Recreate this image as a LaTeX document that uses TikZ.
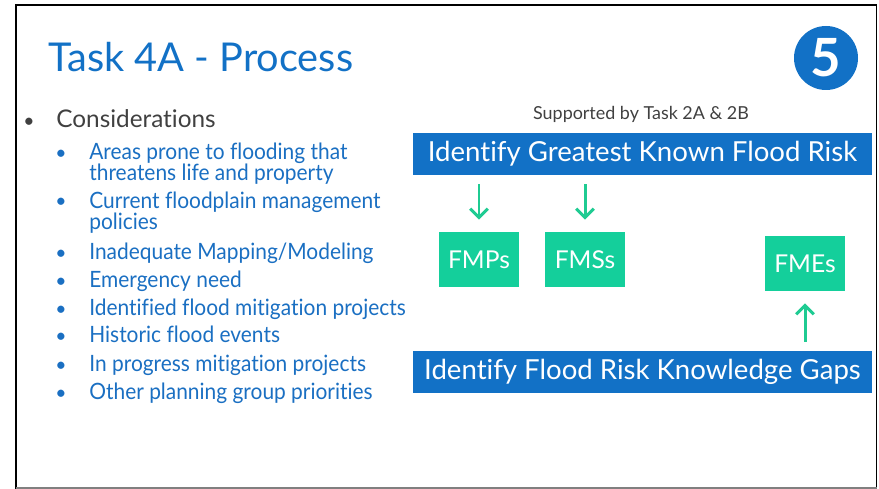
\documentclass[tikz,border=0pt]{standalone}
\usepackage{fontspec}
\setmainfont{Lato}[Ligatures=NoCommon]
\newfontfamily\itemfont{Lato}[Ligatures=NoCommon,FakeStretch=0.93]
\usetikzlibrary{arrows.meta,positioning}
\definecolor{slideblue}{HTML}{1271C6}
\definecolor{textblue}{HTML}{1A6FC2}
\definecolor{boxgreen}{HTML}{14CF9B}
\definecolor{arrowgreen}{HTML}{1FCB92}
\definecolor{darkgrey}{HTML}{404040}
\tikzset{%
	bluebar/.style  = {fill=slideblue, text=white, minimum width=459*0.02cm, minimum height=42*0.02cm, inner sep=0pt, font=\fontsize{15.7}{18}\selectfont},
	greenbox/.style = {fill=boxgreen, text=white, minimum width=80*0.02cm, minimum height=55*0.02cm, inner sep=0pt, font=\fontsize{14}{16}\selectfont},
	item/.style     = {anchor=base west, inner sep=0pt, text=textblue, align=left, font=\itemfont\fontsize{12.8}{12.3}\selectfont},
	dot/.style      = {anchor=base, inner sep=0pt, text=textblue, font=\fontsize{11}{12}\selectfont},
	arrow/.style    = {line width=1.7pt, arrowgreen, -{Straight Barb[length=5pt,width=10pt,line width=1.7pt]}, shorten <=9*0.02cm, shorten >=12*0.02cm},
}

\begin{document}
\begin{tikzpicture}[x=0.02cm,y=-0.02cm]
		\useasboundingbox (0,0) rectangle (879,489);
		% frame
		\draw[line width=1.5pt, black] (16,489) -- (16,5) -- (876.5,5);
		\draw[line width=0.9pt, black] (876.5,5) -- (876.5,488);
		\draw[line width=0.9pt, gray] (16,488) -- (876.5,488);
		
		\node[anchor=base west, inner sep=0pt, text=slideblue, font=\fontsize{22.6}{26}\selectfont] (title) at (48,72) {Task 4A - Process};
		\node[circle, fill=slideblue, minimum size=64*0.02cm, inner sep=0pt, text=white, font=\fontsize{30}{30}\bfseries] (num) at (826,58) {5};
		
		\node[anchor=base west, inner sep=0pt, text=darkgrey, font=\fontsize{13.85}{16}\selectfont] (cons) at (56,128) {Considerations};
		\node[dot, text=darkgrey] (consdot) at (29,128) {•};
		% \yy = baseline of last line, \by = bullet
		\foreach \txt/\yy/\by [count=\i] in {{Areas prone to flooding that\\threatens life and property}/181/160,
			{Current floodplain management\\policies}/230/208,
			{Inadequate Mapping/Modeling}/260/260,
			{Emergency need}/288/288,
			{Identified flood mitigation projects}/316/316,
			{Historic flood events}/343/343,
			{In progress mitigation projects}/372/372,
			{Other planning group priorities}/399/399}{
			\node[item] (item\i) at (89,\yy) {\txt};
			\node[dot] (dot\i) at (61,\by) {•};
		}
		
		\node[inner sep=0pt, text=darkgrey, font=\fontsize{10.2}{12}\selectfont] (support) at (641,114) {Supported by Task 2A \& 2B};
		\node[bluebar] (greatest) at (642.5,154) {Identify Greatest Known Flood Risk};
		\node[bluebar] (gaps) at (642.5,372) {Identify Flood Risk Knowledge Gaps};
		\node[greenbox] (fmp) at (479,259.5) {FMPs};
		\node[greenbox] (fms) at (585,259.5) {FMSs};
		\node[greenbox] (fme) at (805,263.5) {FMEs};
		
		\draw[arrow] (fmp.north |- greatest.south) -- (fmp.north);
		\draw[arrow] (fms.north |- greatest.south) -- (fms.north);
		\draw[arrow] (fme.south |- gaps.north) -- (fme.south);
		\end{tikzpicture}
\end{document}
